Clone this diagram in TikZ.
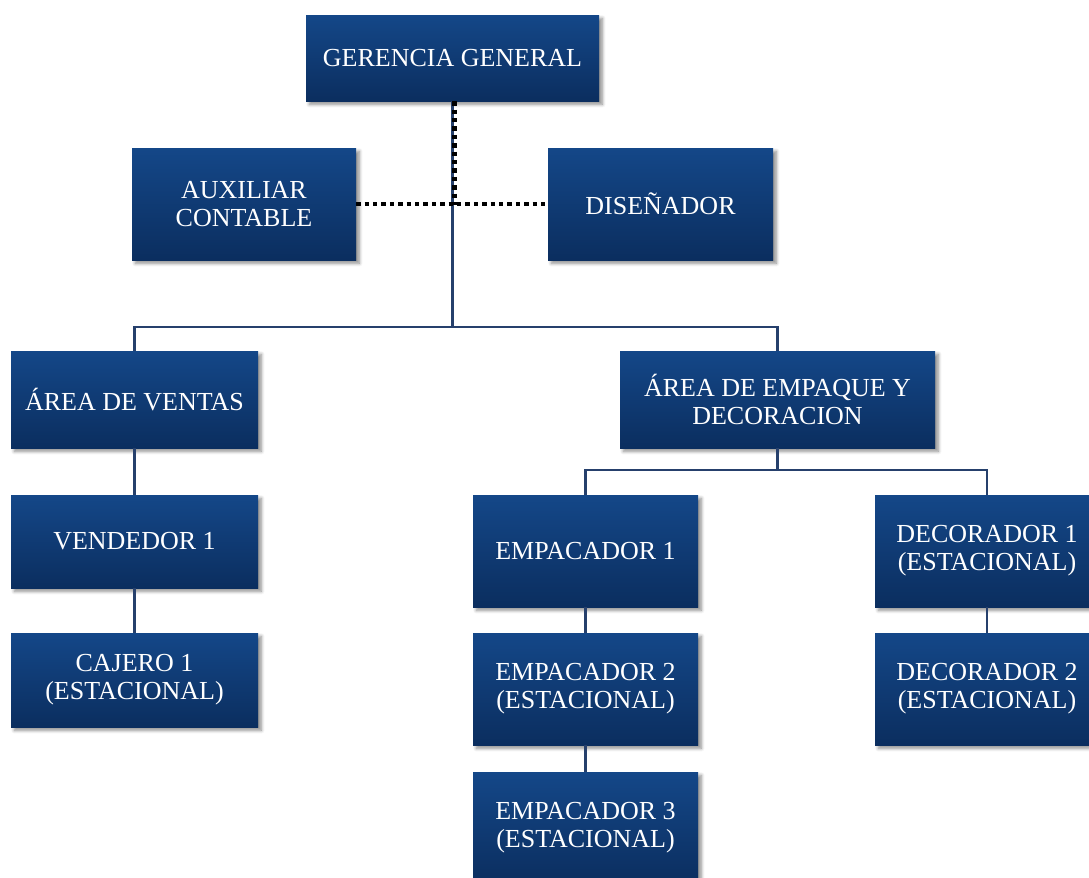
\documentclass[tikz,border=0pt]{standalone}
\usepackage{fontspec}
\setmainfont{Liberation Serif}
\usetikzlibrary{shadows.blur}
\definecolor{boxtop}{RGB}{20,71,136}
\definecolor{boxbot}{RGB}{11,46,95}
\definecolor{linkcol}{RGB}{38,64,108}
\tikzset{
  sz/.style 2 args={minimum width=#1*0.75pt, minimum height=#2*0.75pt},
  orgbox/.style={rectangle, inner sep=0pt, align=center, text=white,
    top color=boxtop, bottom color=boxbot, draw=none,
    font=\fontsize{19.5pt}{20.8pt}\selectfont,
    blur shadow={shadow xshift=2.5pt, shadow yshift=-2.5pt, shadow blur steps=6,
      shadow blur radius=2.5pt, shadow opacity=45}},
  link/.style={draw=linkcol, line width=1.6pt},
  dotline/.style={draw=black, line width=3.3pt, dash pattern=on 3.3pt off 3pt}
}
\begin{document}
\begin{tikzpicture}[x=0.75pt,y=-0.75pt]
\useasboundingbox (0,0) rectangle (1089,878);
\clip (0,0) rectangle (1089,878);

% junction points of the connectors
\coordinate (jmain) at (452.5,327);
\coordinate (jdot) at (454.5,205);
\coordinate (jemp) at (777.5,470);

% boxes
\node[orgbox, sz={293}{86}]  (gg)   at (452.5,58)  {GERENCIA GENERAL};
\node[orgbox, sz={224}{112}] (aux)  at (244,204)   {AUXILIAR\\CONTABLE};
\node[orgbox, sz={225}{112}] (dis)  at (660.5,204) {DISEÑADOR};
\node[orgbox, sz={247}{97}]  (ven)  at (134.5,399.5) {ÁREA DE VENTAS};
\node[orgbox, sz={315}{97}]  (emq)  at (777.5,399.5) {ÁREA DE EMPAQUE Y\\DECORACION};
\node[orgbox, sz={247}{93}]  (vd1)  at (134.5,541.5) {VENDEDOR 1};
\node[orgbox, sz={247}{94}]  (cj1)  at (134.5,680)   {CAJERO 1\\(ESTACIONAL)};
\node[orgbox, sz={225}{112}] (ep1)  at (585.5,551)   {EMPACADOR 1};
\node[orgbox, sz={225}{112}] (ep2)  at (585.5,689)   {EMPACADOR 2\\(ESTACIONAL)};
\node[orgbox, sz={225}{112}] (ep3)  at (585.5,828)   {EMPACADOR 3\\(ESTACIONAL)};
\node[orgbox, sz={224}{112}] (dc1)  at (987,551)     {DECORADOR 1\\(ESTACIONAL)};
\node[orgbox, sz={224}{112}] (dc2)  at (987,689)     {DECORADOR 2\\(ESTACIONAL)};

% reporting lines
\draw[link] (gg.south) -- (jmain);
\draw[link] (jmain) -| (ven.north);
\draw[link] (jmain) -| (emq.north);
\draw[link] (ven.south) -- (vd1.north);
\draw[link] (vd1.south) -- (cj1.north);
\draw[link] (emq.south) -- (jemp);
\draw[link] (jemp) -| (ep1.north);
\draw[link] (jemp) -| (dc1.north);
\draw[link] (ep1.south) -- (ep2.north);
\draw[link] (ep2.south) -- (ep3.north);
\draw[link] (dc1.south) -- (dc2.north);

% staff (advisory) lines
\draw[dotline] (gg.south -| jdot) -- (jdot);
\draw[dotline] (aux.east) -- (dis.west);
\end{tikzpicture}
\end{document}
